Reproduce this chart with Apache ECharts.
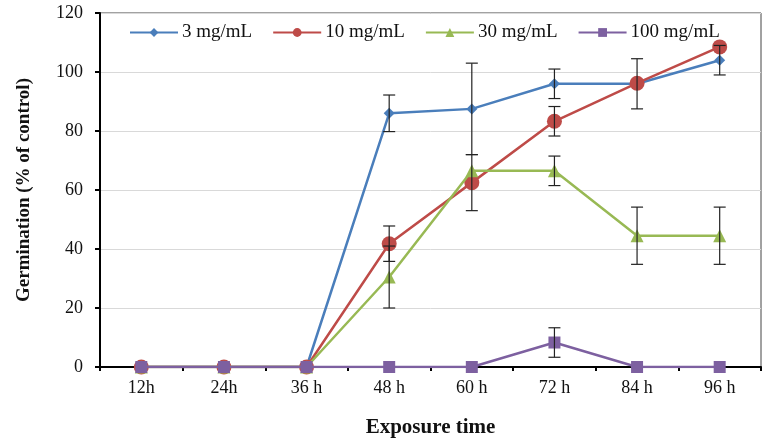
<!DOCTYPE html>
<html><head><meta charset="utf-8">
<script src="https://cdn.jsdelivr.net/npm/echarts@6/dist/echarts.min.js"></script>
<style>html,body{margin:0;padding:0;background:#fff}#c{width:762px;height:440px}</style>
</head><body><div id="c"></div>
<script>
const categories = ['12h','24h','36 h','48 h','60 h','72 h','84 h','96 h'];
const seriesNames = ['3 mg/mL','10 mg/mL','30 mg/mL','100 mg/mL'];
const v3 = [0,0,0,86,87.5,96,96,104];
const v10 = [0,0,0,41.8,62.5,83.3,96.2,108.5];
const v30 = [0,0,0,30.5,66.5,66.5,44.5,44.5];
const v100 = [0,0,0,0,0,8.3,0,0];
const e3 = [0,0,0,6.2,15.5,5,8.5,5];
const e10 = [0,0,0,6,9.5,5,0,0];
const e30 = [0,0,0,10.5,0,5,9.7,9.7];
const e100 = [0,0,0,0,0,5,0,0];
const yTicks = [0,20,40,60,80,100,120];

const values = [v3,v10,v30,v100];
const errors = [e3,e10,e30,e100];
const colors = ['#4a7ebb','#be4b48','#98b954','#7d60a0'];
const symbols = ['diamond','circle','triangle','rect'];
const symSizes = [11,15,13,12];

const chart = echarts.init(document.getElementById('c'));
const serif = '"Liberation Serif","DejaVu Serif",serif';

const series = [];
values.forEach((vals,i)=>{
  series.push({
    name: seriesNames[i], type:'line', data: vals,
    symbol: symbols[i], symbolSize: symSizes[i], showAllSymbol: true,
    lineStyle:{color:colors[i], width:2.5},
    itemStyle:{color:colors[i]},
    z: 2+i, animation:false
  });
});
values.forEach((vals,i)=>{
  const d = [];
  vals.forEach((v,k)=>{ if(errors[i][k]>0) d.push([k, v-errors[i][k], v+errors[i][k]]); });
  series.push({
    type:'custom', data:d, z:10, animation:false, silent:true,
    renderItem:(params, api)=>{
      const x = api.value(0);
      const lo = api.coord([x, api.value(1)]);
      const hi = api.coord([x, api.value(2)]);
      const w = 6;
      const st = {stroke:'#222', lineWidth:1.2};
      return {type:'group', children:[
        {type:'line', shape:{x1:lo[0],y1:lo[1],x2:hi[0],y2:hi[1]}, style:st},
        {type:'line', shape:{x1:lo[0]-w,y1:lo[1],x2:lo[0]+w,y2:lo[1]}, style:st},
        {type:'line', shape:{x1:hi[0]-w,y1:hi[1],x2:hi[0]+w,y2:hi[1]}, style:st}
      ]};
    }
  });
});

chart.setOption({
  animation:false,
  backgroundColor:'#fff',
  grid:{left:100, right:1, top:13, bottom:73, show:true, borderColor:'#444', borderWidth:1,
        containLabel:false, outerBoundsMode:'none'},
  legend:{
    data: seriesNames, left:124, top:18, itemWidth:48, itemHeight:11, itemGap:20,
    textStyle:{fontFamily:serif, fontSize:19, color:'#111', padding:[0,0,0,-1]}
  },
  xAxis:{
    type:'category', data:categories, boundaryGap:true,
    axisLine:{lineStyle:{color:'#000', width:2}},
    axisTick:{show:true, length:4, lineStyle:{color:'#000', width:2}},
    axisLabel:{fontFamily:serif, fontSize:18, color:'#111', margin:12},
    name:'Exposure time', nameLocation:'middle', nameGap:50,
    nameTextStyle:{fontFamily:serif, fontSize:21, fontWeight:'bold', color:'#111'}
  },
  yAxis:{
    type:'value', min:0, max:120, interval:20,
    axisLine:{show:true, lineStyle:{color:'#000', width:2}},
    axisTick:{show:true, length:5, lineStyle:{color:'#000', width:2}},
    axisLabel:{fontFamily:serif, fontSize:18, color:'#111', margin:17,
      formatter:(v)=> yTicks.includes(v) ? String(v) : ''},
    splitLine:{show:true, lineStyle:{color:'#d9d9d9', width:1}},
    name:'Germination (% of control)', nameLocation:'middle', nameGap:66,
    nameTextStyle:{fontFamily:serif, fontSize:19, fontWeight:'bold', color:'#111'}
  },
  series: series
});
</script></body></html>
